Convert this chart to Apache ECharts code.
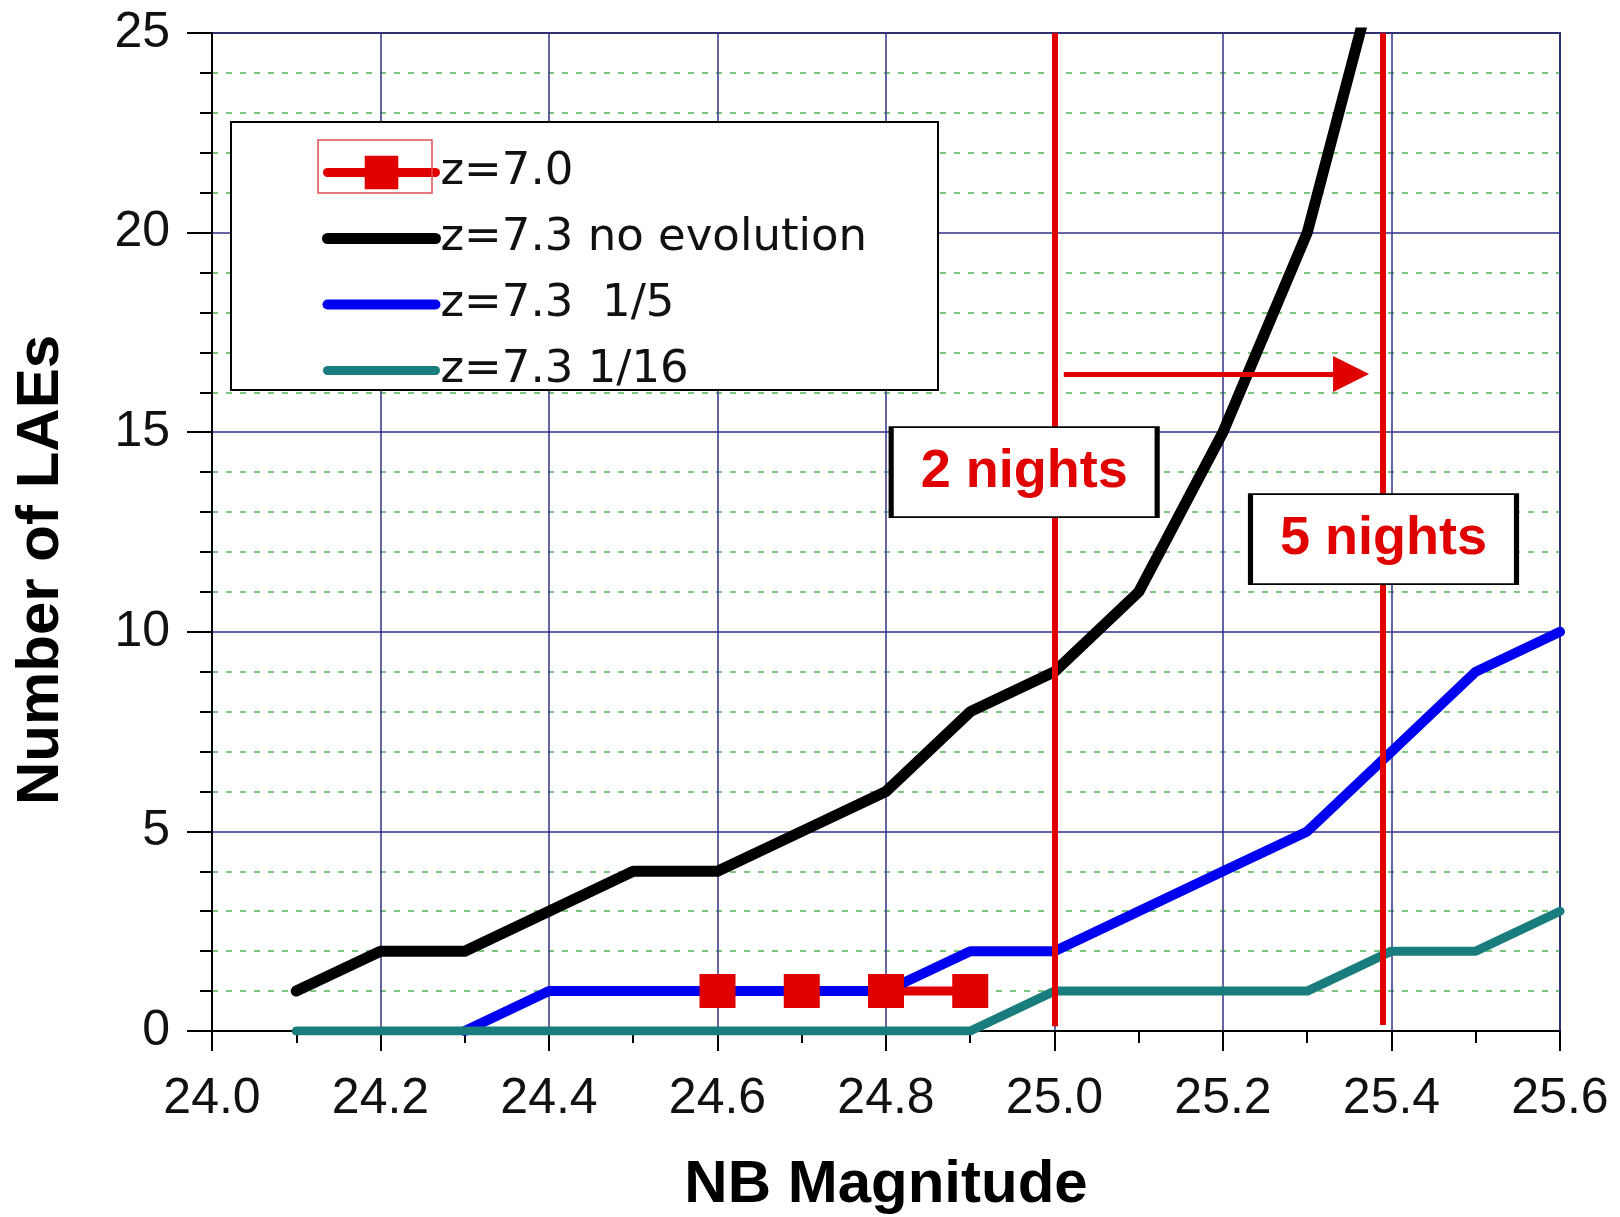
<!DOCTYPE html>
<html><head><meta charset="utf-8">
<script src="https://cdn.jsdelivr.net/npm/echarts@6/dist/echarts.min.js"></script>
<style>html,body{margin:0;padding:0;background:#fff}#c{width:1620px;height:1217px}</style>
</head><body><div id="c"></div>
<script>
// ---- data ----
const magnitudes   = [24.1,24.2,24.3,24.4,24.5,24.6,24.7,24.8,24.9,25.0,25.1,25.2,25.3,25.4,25.5,25.6];
const noEvolution  = [1,2,2,3,4,4,5,6,8,9,11,15,20,28,null,null];
const oneFifth     = [null,null,0,1,1,1,1,1,2,2,3,4,5,7,9,10];
const oneSixteenth = [0,0,0,0,0,0,0,0,0,1,1,1,1,2,2,3];
const z70Mags      = [24.6,24.7,24.8,24.9];
const z70Counts    = [1,1,1,1];
const seriesNames  = ['z=7.0','z=7.3 no evolution','z=7.3  1/5','z=7.3 1/16'];
const nightLimits  = [25.0, 25.39];
const nightLabels  = ['2 nights','5 nights'];

const pairs = (xs, ys) => xs.map((x, i) => [x, ys[i]]);

const RED = '#e00000';
const tickFont = {fontFamily:'Liberation Sans', fontSize:50, color:'#111'};

const chart = echarts.init(document.getElementById('c'));
chart.setOption({
  animation: false,
  backgroundColor: '#fff',
  grid: {left:212, right:60, top:33, bottom:186, show:true, borderColor:'#333', borderWidth:2,
         containLabel:false, outerBoundsMode:'none'},
  legend: {
    orient:'vertical', left:322, top:150, padding:0,
    itemWidth:108, itemHeight:42, itemGap:21, itemTextGap:16,
    selectedMode:false,
    textStyle:{fontFamily:'DejaVu Sans', fontSize:45, color:'#111', lineHeight:42},
    lineStyle:{width:'inherit', cap:'round'},
    data: seriesNames.map((n, i) => i === 0 ? {name:n} :
      {name:n, itemStyle:{opacity:0, color:'rgba(0,0,0,0)', borderWidth:0}})
  },
  xAxis: {
    type:'value', min:24, max:25.6, interval:0.2,
    axisLine:{show:true, onZero:false, lineStyle:{color:'#000', width:2}},
    axisTick:{show:true, length:20, lineStyle:{color:'#000', width:2}},
    minorTick:{show:true, splitNumber:2, length:12, lineStyle:{color:'#000', width:2}},
    axisLabel:Object.assign({margin:43, formatter:v => v.toFixed(1)}, tickFont),
    splitLine:{show:true, lineStyle:{color:'#30308a', width:1.5}},
    name:'NB Magnitude', nameLocation:'middle', nameGap:124,
    nameTextStyle:{fontFamily:'Liberation Sans', fontSize:60, fontWeight:'bold', color:'#000'}
  },
  yAxis: {
    type:'value', min:0, max:25, interval:5,
    axisLine:{show:true, lineStyle:{color:'#000', width:2}},
    axisTick:{show:true, length:25, lineStyle:{color:'#000', width:2}},
    minorTick:{show:true, splitNumber:5, length:12, lineStyle:{color:'#000', width:2}},
    axisLabel:Object.assign({margin:42}, tickFont),
    splitLine:{show:true, lineStyle:{color:'#30308a', width:1.5}},
    minorSplitLine:{show:true, lineStyle:{color:'#7cc67c', width:2, type:[6,8]}}
  },
  graphic: [
    {type:'rect', z:3, shape:{x:231, y:122, width:707, height:268},
     style:{fill:'#fff', stroke:'#000', lineWidth:2}},
    {type:'rect', z:5, shape:{x:318, y:140, width:114, height:53},
     style:{fill:'none', stroke:'#e05050', lineWidth:1.5}},
    {type:'text', z:5, x:41, y:570, rotation:Math.PI/2,
     style:{text:'Number of LAEs', fontFamily:'Liberation Sans', fontSize:60, fontWeight:'bold',
            fill:'#000', align:'center', verticalAlign:'middle'}}
  ],
  series: [
    {
      name:seriesNames[0], type:'line', data:pairs(z70Mags, z70Counts),
      symbol:'rect', symbolSize:[36,34], showSymbol:true,
      lineStyle:{color:RED, width:9, cap:'round', join:'round'},
      itemStyle:{color:RED},
      markLine:{
        silent:true, z:4, symbol:['none','none'], label:{show:false},
        lineStyle:{color:RED, width:6, type:'solid'},
        emphasis:{disabled:true},
        data:[
          [{coord:[nightLimits[0], 0.12]}, {coord:[nightLimits[0], 25]}],
          [{coord:[nightLimits[1], 0.15]}, {coord:[nightLimits[1], 25]}],
          [{coord:[25.011, 16.46], symbol:'none'},
           {coord:[25.352, 16.46], symbol:'triangle', symbolSize:36, lineStyle:{width:5}}]
        ]
      }
    },
    {
      name:seriesNames[1], type:'line', data:pairs(magnitudes, noEvolution),
      symbol:'none', lineStyle:{color:'#000', width:11, cap:'round', join:'round'},
      itemStyle:{color:'#000'}
    },
    {
      name:seriesNames[2], type:'line', data:pairs(magnitudes, oneFifth),
      symbol:'none', lineStyle:{color:'#0000f0', width:10, cap:'round', join:'round'},
      itemStyle:{color:'#0000f0'}
    },
    {
      name:seriesNames[3], type:'line', data:pairs(magnitudes, oneSixteenth),
      symbol:'none', lineStyle:{color:'#1a7d7d', width:9, cap:'round', join:'round'},
      itemStyle:{color:'#1a7d7d'},
      markPoint:{
        silent:true, z:6, symbol:'rect', symbolSize:[266,90],
        itemStyle:{color:'#fff', borderColor:'#000', borderWidth:3, shadowBlur:0},
        label:{show:true, position:'inside', formatter:'{b}', color:RED,
               fontFamily:'Liberation Sans', fontSize:54, fontWeight:'bold'},
        data:[
          {name:nightLabels[0], coord:[24.964, 14.0]},
          {name:nightLabels[1], coord:[25.3905, 12.32]}
        ]
      }
    }
  ]
});
</script></body></html>
